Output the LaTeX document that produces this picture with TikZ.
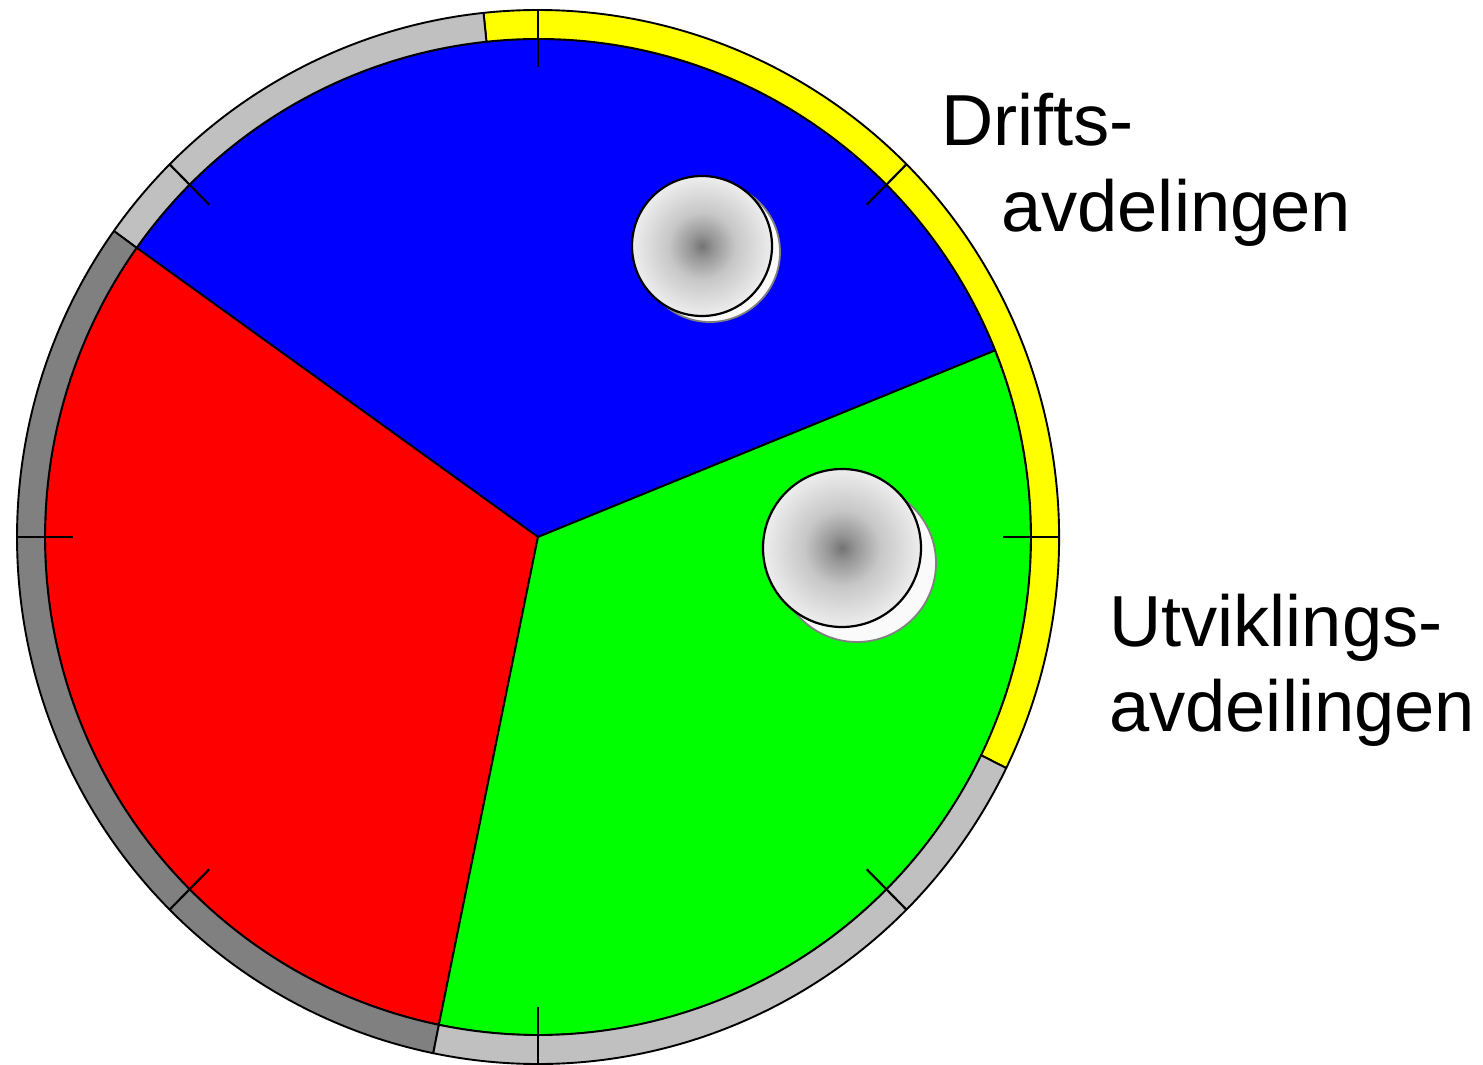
\documentclass[tikz,border=0pt]{standalone}
\usepackage{fontspec}
\setmainfont{Liberation Sans}
\usetikzlibrary{calc}
% soft grey core fading to white for the round markers
\pgfdeclareradialshading{ballglow}{\pgfpoint{0bp}{0bp}}{%
  color(0bp)=(black!55); color(4bp)=(black!42); color(12bp)=(black!22);
  color(24bp)=(black!8); color(38bp)=(black!1); color(50bp)=(white)}
\definecolor{pieblue}{HTML}{0000FF}
\definecolor{piered}{HTML}{FF0000}
\definecolor{piegreen}{HTML}{00FF00}
\definecolor{rimyellow}{HTML}{FFFF00}
\definecolor{rimlight}{HTML}{C0C0C0}
\definecolor{rimdark}{HTML}{808080}
\begin{document}
\begin{tikzpicture}[x=1pt,y=1pt,
  edge/.style={draw=black,line width=1.9pt,line join=round},
  tickline/.style={draw=black,line width=2.2pt},
  ball/.style={circle,inner sep=0pt,minimum size=#1,shading=ballglow,draw=black,line width=2.2pt},
  ballshadow/.style={circle,inner sep=0pt,minimum size=#1,fill=black!2,draw=black!50,line width=1.8pt},
  lbl/.style={inner sep=0pt,anchor=base west,font=\fontsize{72.3}{87}\selectfont}]
\useasboundingbox (-538,-528) rectangle (945,537);
% pie sectors (inner radii 493 x 498)
\newcommand\piesector[3]{%
  \filldraw[fill=#1,edge] (0,0) -- (#2:493 and 498)
    arc[start angle=#2,end angle=#3,x radius=493,y radius=498] -- cycle;}
\piesector{pieblue}{22}{144.5}
\piesector{piered}{144.5}{258.4}
\piesector{piegreen}{258.4}{382}
% rim segments between the outer (521 x 527) and inner ellipse
\newcommand\rimseg[3]{%
  \filldraw[fill=#1,edge] (#2:521 and 527)
    arc[start angle=#2,end angle=#3,x radius=521,y radius=527]
    -- (#3:493 and 498)
    arc[start angle=#3,end angle=#2,x radius=493,y radius=498] -- cycle;}
\rimseg{rimyellow}{-26}{96}
\rimseg{rimlight}{96}{144.5}
\rimseg{rimdark}{144.5}{258.4}
\rimseg{rimlight}{258.4}{334}
% tick marks every 45 degrees
\foreach \a in {0,45,...,315}
  \draw[tickline] (\a:521 and 527) -- (\a:465 and 470);
% markers with their shadows
\node[ballshadow=140pt] (m1s) at (172,285) {};
\node[ball=140pt] (m1) at (164,291) {};
\node[ballshadow=158pt] (m2s) at (319,-26) {};
\node[ball=158pt] (m2) at (304,-11) {};
% labels
\node[lbl] (drifts) at (403,391) {Drifts-};
\node[lbl] (drifts2) at (463,305) {avdelingen};
\node[lbl] (utv) at (571,-110) {Utviklings-};
\node[lbl] (utv2) at (571,-194) {avdeilingen};
\end{tikzpicture}
\end{document}
